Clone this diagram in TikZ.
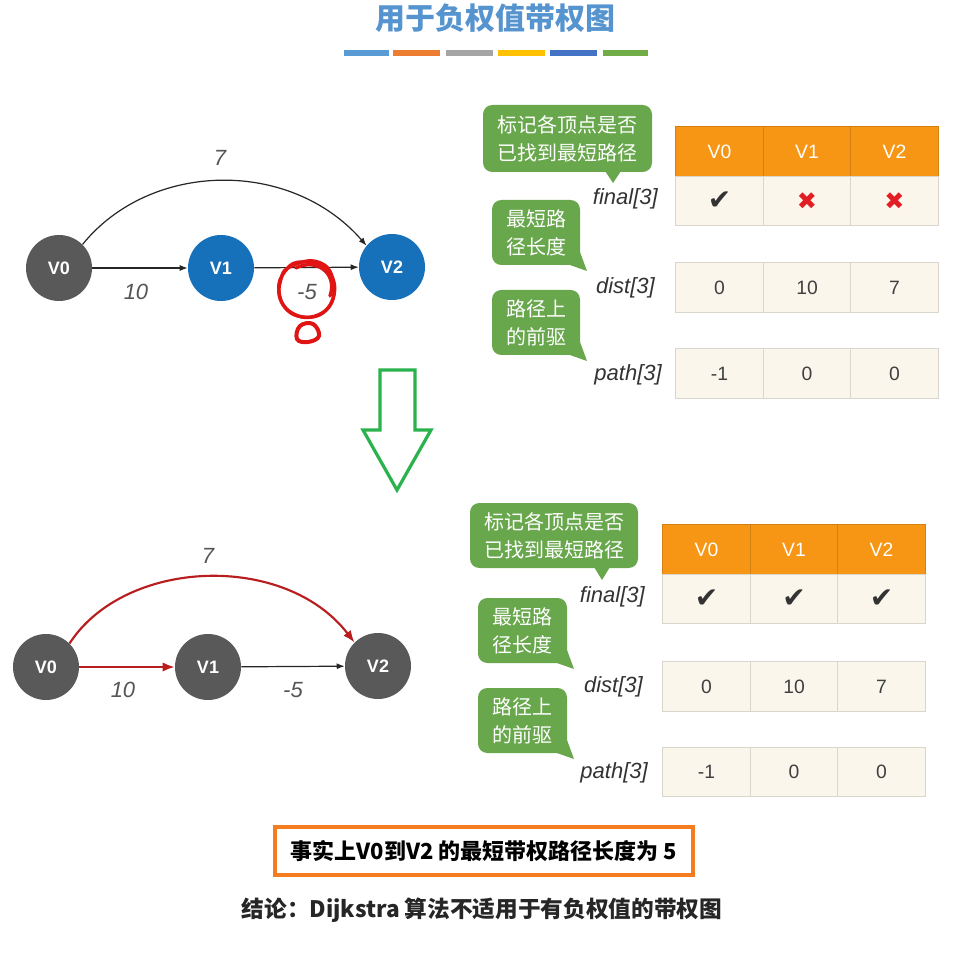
\documentclass[tikz,border=0pt]{standalone}
\usepackage{fontspec}
\setmainfont{Liberation Sans}
\newfontfamily\cjk{Noto Sans CJK SC}
\newfontfamily\symf{DejaVu Sans}
\usetikzlibrary{arrows.meta}
\definecolor{titleblue}{RGB}{86,148,207}
\definecolor{nodegray}{RGB}{89,89,89}
\definecolor{nodeblue}{RGB}{22,112,186}
\definecolor{hdrorange}{RGB}{247,150,20}
\definecolor{cellfill}{RGB}{250,246,236}
\definecolor{cellline}{RGB}{218,214,205}
\definecolor{bubgreen}{RGB}{104,167,76}
\definecolor{arrgreen}{RGB}{42,178,76}
\definecolor{boxorange}{RGB}{245,125,32}
\definecolor{edgered}{RGB}{185,30,30}
\definecolor{labgray}{RGB}{85,85,85}
\definecolor{scribred}{RGB}{225,20,20}
\definecolor{xred}{RGB}{226,30,36}
\definecolor{bar1}{RGB}{91,155,213}
\definecolor{bar2}{RGB}{237,125,49}
\definecolor{bar3}{RGB}{165,165,165}
\definecolor{bar4}{RGB}{255,192,0}
\definecolor{bar5}{RGB}{68,114,196}
\definecolor{bar6}{RGB}{112,173,71}
\begin{document}
\begin{tikzpicture}[x=0.75pt,y=-0.75pt,
 vert/.style={circle, minimum size=49.5pt, inner sep=0pt, text=white, font=\fontsize{13.5}{14}\selectfont\bfseries},
 edge/.style={draw=black!85, line width=0.9pt, -{Latex[length=6pt,width=4.5pt]}},
 redge/.style={draw=edgered, line width=1.6pt, -{Latex[length=9pt,width=7pt]}},
 wlab/.style={font=\fontsize{16.5}{18}\selectfont\itshape, text=labgray},
 cell/.style={rectangle, draw=cellline, fill=cellfill, line width=0.8pt, minimum width=65.6pt, minimum height=37pt, inner sep=0pt, font=\fontsize{14.5}{16}\selectfont, text=black!75},
 hcell/.style={cell, fill=hdrorange, draw=hdrorange!85!black, text=white},
 arrlab/.style={font=\fontsize{16.5}{18}\selectfont\itshape, text=black!80, anchor=east, inner sep=0pt},
 bubble/.style={rectangle, rounded corners=7pt, fill=bubgreen, text=white, font=\cjk\fontsize{15}{21}\selectfont, align=center, inner sep=0pt},
 scrib/.style={draw=scribred, line width=2.5pt, line cap=round, line join=round},
 chk/.style={font=\symf\fontsize{21}{22}\selectfont, text=black!80},
 crs/.style={font=\symf\fontsize{18}{19}\selectfont, text=xred},
 barsty/.style={line width=4.5pt},
]
\useasboundingbox (0,0) rectangle (960,955);
\fill[white] (0,0) rectangle (960,955);

% title
\node[font=\cjk\fontsize{22.5}{24}\selectfont\bfseries, text=titleblue] (title) at (495,18) {用于负权值带权图};
\draw[barsty,bar1] (344,53) -- (389,53);
\draw[barsty,bar2] (393,53) -- (440,53);
\draw[barsty,bar3] (446,53) -- (493,53);
\draw[barsty,bar4] (498,53) -- (545,53);
\draw[barsty,bar5] (550,53) -- (597,53);
\draw[barsty,bar6] (603,53) -- (648,53);

% top graph
\node[vert, fill=nodegray] (t0) at (59,268) {V0};
\node[vert, fill=nodeblue] (t1) at (221,268) {V1};
\node[vert, fill=nodeblue] (t2) at (392,267) {V2};
\draw[edge] (t0) -- (t1);
\draw[edge] (t1) -- (t2);
\draw[edge] (t0.45) .. controls (150,161) and (290,158) .. (t2.140);
\node[wlab] (tl7) at (220,158) {7};
\node[wlab] (tl10) at (136,292) {10};
\node[wlab] (tl5) at (307,292) {-5};
% red scribble
\draw[scrib] plot[smooth cycle, tension=0.8] coordinates {(292,266) (318,262) (333,280) (328,308) (303,317) (282,303) (281,279)};
\draw[scrib] plot[smooth cycle, tension=0.8] coordinates {(303,262) (327,270) (334,295) (318,315) (292,313) (279,292) (286,270)};
\draw[scrib] (296,268) .. controls (315,258) and (338,272) .. (330,296);
\draw[scrib, line width=3pt] plot[smooth cycle, tension=0.7] coordinates {(300,326) (313,324) (319,336) (308,342) (297,339)};

% top table
\node[hcell] (th0) at (719.5,151.5) {V0};
\node[hcell] (th1) at (807,151.5) {V1};
\node[hcell] (th2) at (894.5,151.5) {V2};
\node[cell] (tf0) at (719.5,201) {};
\node[cell] (tf1) at (807,201) {};
\node[cell] (tf2) at (894.5,201) {};
\node[chk] (tc0) at (tf0) {✔};
\node[crs] (tx1) at (tf1) {✖};
\node[crs] (tx2) at (tf2) {✖};
\node[cell] (td0) at (719.5,287.5) {0};
\node[cell] (td1) at (807,287.5) {10};
\node[cell] (td2) at (894.5,287.5) {7};
\node[cell] (tp0) at (719.5,373.5) {-1};
\node[cell] (tp1) at (807,373.5) {0};
\node[cell] (tp2) at (894.5,373.5) {0};
\node[arrlab] (tfl) at (658,199) {final[3]};
\node[arrlab] (tdl) at (655,288) {dist[3]};
\node[arrlab] (tpl) at (662,375) {path[3]};
% top bubbles
\node[bubble, minimum width=126.75pt, minimum height=50.25pt] (tb1) at (567.5,138.5) {标记各顶点是否\\已找到最短路径};
\fill[bubgreen] (605,171) -- (621,171) -- (613,183) -- cycle;
\node[bubble, minimum width=66pt, minimum height=48.75pt] (tb2) at (536,232.5) {最短路\\径长度};
\fill[bubgreen] (567,264) -- (580,252) -- (587,271) -- cycle;
\node[bubble, minimum width=66pt, minimum height=48.75pt] (tb3) at (536,322.5) {路径上\\的前驱};
\fill[bubgreen] (567,354) -- (580,342) -- (587,361) -- cycle;

% green arrow
\draw[arrgreen, line width=2.4pt, line join=miter] (380,370) -- (415,370) -- (415,430) -- (431,430) -- (397,490) -- (363,430) -- (380,430) -- cycle;

% bottom graph
\node[vert, fill=nodegray] (b0) at (46,667) {V0};
\node[vert, fill=nodegray] (b1) at (208,667) {V1};
\node[vert, fill=nodegray] (b2) at (378,666) {V2};
\draw[redge] (b0) -- (b1);
\draw[edge] (b1) -- (b2);
\draw[redge] (b0.45) .. controls (125,558) and (285,552) .. (b2.135);
\node[wlab] (bl7) at (208,556) {7};
\node[wlab] (bl10) at (123,690) {10};
\node[wlab] (bl5) at (293,690) {-5};

% bottom table
\node[hcell] (bh0) at (706.5,549.5) {V0};
\node[hcell] (bh1) at (794,549.5) {V1};
\node[hcell] (bh2) at (881.5,549.5) {V2};
\node[cell] (bf0) at (706.5,599) {};
\node[cell] (bf1) at (794,599) {};
\node[cell] (bf2) at (881.5,599) {};
\node[chk] (bc0) at (bf0) {✔};
\node[chk] (bc1) at (bf1) {✔};
\node[chk] (bc2) at (bf2) {✔};
\node[cell] (bd0) at (706.5,686.5) {0};
\node[cell] (bd1) at (794,686.5) {10};
\node[cell] (bd2) at (881.5,686.5) {7};
\node[cell] (bp0) at (706.5,772) {-1};
\node[cell] (bp1) at (794,772) {0};
\node[cell] (bp2) at (881.5,772) {0};
\node[arrlab] (bfl) at (645,597) {final[3]};
\node[arrlab] (bdl) at (643,687) {dist[3]};
\node[arrlab] (bpl) at (648,773) {path[3]};
% bottom bubbles
\node[bubble, minimum width=126pt, minimum height=48.75pt] (bb1) at (554,535.5) {标记各顶点是否\\已找到最短路径};
\fill[bubgreen] (594,567) -- (610,567) -- (602,580) -- cycle;
\node[bubble, minimum width=66.75pt, minimum height=48.75pt] (bb2) at (522.5,630.5) {最短路\\径长度};
\fill[bubgreen] (554,662) -- (567,650) -- (574,669) -- cycle;
\node[bubble, minimum width=66.75pt, minimum height=48.75pt] (bb3) at (522.5,720.5) {路径上\\的前驱};
\fill[bubgreen] (554,752) -- (567,740) -- (574,759) -- cycle;

% conclusion
\node[draw=boxorange, line width=3pt, minimum width=313.5pt, minimum height=36pt, inner sep=0pt, font=\cjk\fontsize{16.5}{18}\selectfont\bfseries] (fact) at (484,851) {事实上V0到V2 的最短带权路径长度为 5};
\node[font=\cjk\fontsize{17}{18}\selectfont\bfseries, text=black!85] (concl) at (482,910) {结论：Dijkstra 算法不适用于有负权值的带权图};
\end{tikzpicture}
\end{document}
